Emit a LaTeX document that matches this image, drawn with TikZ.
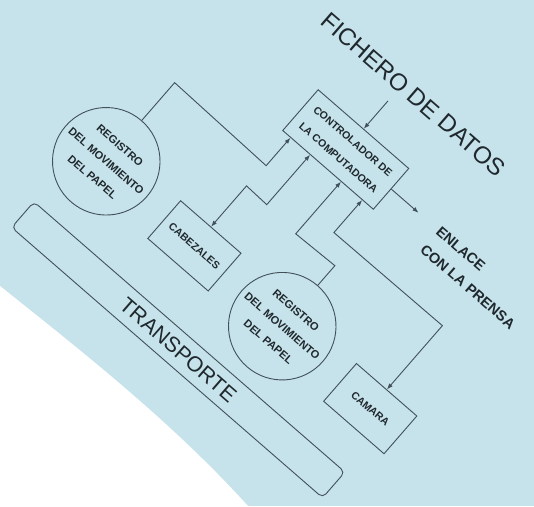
\documentclass[tikz,border=0pt]{standalone}
\usepackage{fontspec}
\setmainfont{Liberation Sans}
\usetikzlibrary{arrows.meta,calc}
\definecolor{bgblue}{HTML}{C6E2EB}
\definecolor{ln}{HTML}{41515A}
\definecolor{tx}{HTML}{1F282D}
\begin{document}
\begin{tikzpicture}[x=1pt,y=1pt,
  box/.style={draw=ln, line width=0.9pt, inner sep=0pt, transform shape, align=center, text=tx},
  txt/.style={transform shape, text=tx, inner sep=0pt},
  con/.style={draw=ln, line width=0.9pt},
  arr/.style={con, -{Latex[length=6pt,width=4.5pt]}},
  dbl/.style={con, {Latex[length=6pt,width=4.5pt]}-{Latex[length=6pt,width=4.5pt]}},
  smallf/.style={font=\bfseries\fontsize{10.5}{22}\selectfont},
  circf/.style={font=\bfseries\fontsize{11}{21}\selectfont}]
\useasboundingbox (0,-506) rectangle (534,0);
\fill[bgblue] (0,-506) rectangle (534,0);
\fill[white] (0,-286) .. controls (80,-350) and (170,-420) .. (248,-506) -- (0,-506) -- cycle;
\begin{scope}[rotate=-41]
  \node[txt, font=\fontsize{24}{28}\selectfont] (fich) at (374,200) {FICHERO DE DATOS};
  \node[box, smallf, minimum width=120pt, minimum height=54pt] (ctrl) at (359,114) {CONTROLADOR DE\\LA COMPUTADORA};
  \node[box, smallf, minimum width=80pt, minimum height=50pt] (cab) at (308,-58) {CABEZALES};
  \node[box, smallf, minimum width=80pt, minimum height=50pt] (cam) at (547.5,-65.5) {CAMARA};
  \node[box, circle, circf, minimum size=104pt] (reg1) at (186,-52) {REGISTRO\\DEL MOVIMIENTO\\DEL PAPEL};
  \node[box, circle, circf, minimum size=106pt] (reg2) at (427,-61) {REGISTRO\\DEL MOVIMIENTO\\DEL PAPEL};
  \node[box, rounded corners=5pt, minimum width=412pt, minimum height=34pt, font=\fontsize{21.5}{24}\selectfont] (trans) at (364,-147) {TRANSPORTE};
  \node[txt, anchor=west, align=left, font=\bfseries\fontsize{14.5}{24}\selectfont] (enl) at (481,102.5) {ENLACE\\CON LA PRENSA};

  \coordinate (f0) at ($(ctrl.north)+(0,37)$);
  \draw[arr] (f0) -- (ctrl.north);
  \draw[arr] (ctrl.east) -- ($(ctrl.east)+(36,0)$);

  \coordinate (r1a) at ($(reg1.north)+(0,50)$);
  \coordinate (r1b) at ($(ctrl.south west)+(11,-37)$);
  \draw[arr] (reg1.north) -- (r1a) -- (r1b) -- ($(ctrl.south west)+(11,0)$);

  \coordinate (c1a) at ($(cab.north)+(0,54)$);
  \coordinate (c1b) at ($(ctrl.south west)+(37,-66)$);
  \draw[dbl] (cab.north) -- (c1a) -- (c1b) -- ($(ctrl.south west)+(37,0)$);

  \coordinate (r2a) at ($(reg2.north)+(0,26)$);
  \coordinate (r2b) at ($(ctrl.south west)+(78,-69)$);
  \draw[arr] (reg2.north) -- (r2a) -- (r2b) -- ($(ctrl.south west)+(78,0)$);

  \coordinate (k0) at ($(ctrl.south west)+(106,0)$);
  \coordinate (k1) at ($(ctrl.south west)+(106,-43)$);
  \coordinate (k2) at ($(cam.north)+(0,84.5)$);
  \draw[dbl] (k0) -- (k1) -- (k2) -- (cam.north);
\end{scope}
\end{tikzpicture}
\end{document}
